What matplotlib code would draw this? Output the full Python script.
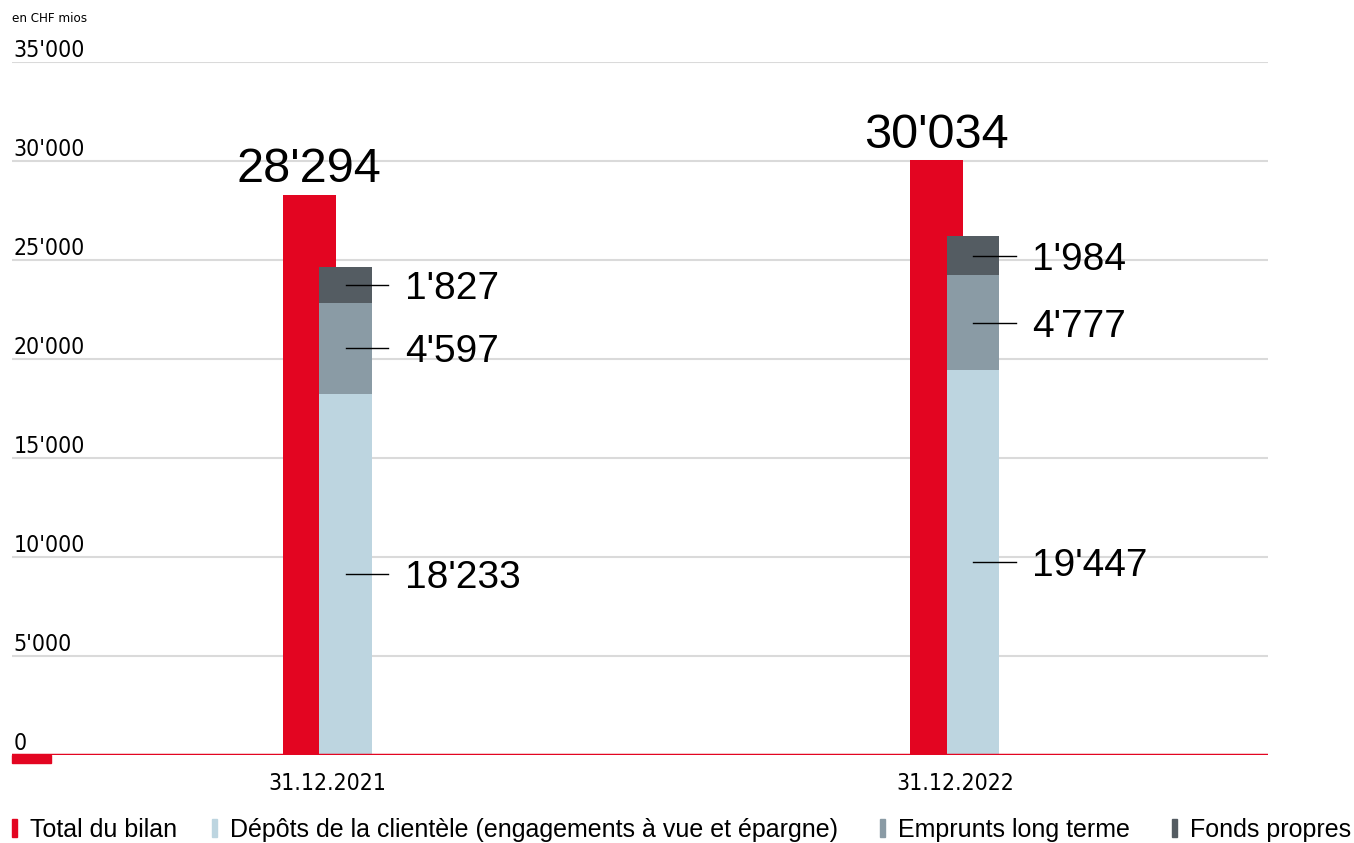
import matplotlib.pyplot as plt
from matplotlib.patches import Rectangle
import matplotlib.transforms as mtransforms

# data (en CHF mios)
dates = ['31.12.2021', '31.12.2022']
total = [28294, 30034]
depots = [18233, 19447]
emprunts = [4597, 4777]
fonds = [1827, 1984]
yticks = [0, 5000, 10000, 15000, 20000, 25000, 30000, 35000]
legend_labels = ['Total du bilan',
                 'Dépôts de la clientèle (engagements à vue et épargne)',
                 'Emprunts long terme', 'Fonds propres']

RED = '#E30521'
LIGHT = '#BDD5E0'
MID = '#8A9BA5'
DARK = '#545C62'
GRID = '#DADADA'

NARROW = ['DejaVu Sans']
ARIAL = ['Liberation Sans', 'DejaVu Sans']


def fmt(v):
    return f"{v:,}".replace(',', "'")


def main():
    W, H = 1354, 843
    fig = plt.figure(figsize=(W / 100, H / 100), dpi=100)
    ax = fig.add_axes([12 / W, (H - 755) / H, (1268 - 12) / W, (755 - 62) / H])

    x = list(range(len(dates)))
    width = 0.084
    off = 0.029
    xr = [i - off for i in x]
    xs = [i + off for i in x]

    ax.bar(xr, total, width=width, color=RED, zorder=2)
    ax.bar(xs, depots, width=width, color=LIGHT, zorder=3)
    bottom2 = [d for d in depots]
    ax.bar(xs, emprunts, width=width, bottom=bottom2, color=MID, zorder=3)
    bottom3 = [d + e for d, e in zip(depots, emprunts)]
    ax.bar(xs, fonds, width=width, bottom=bottom3, color=DARK, zorder=3)

    # total labels
    for xi, t in zip(xr, total):
        ax.annotate(fmt(t), (xi, t), xytext=(0, 9), textcoords='offset points',
                    ha='center', va='baseline', fontsize=35, family=ARIAL)

    # segment labels with leader lines
    for xi, d, e, f in zip(xs, depots, emprunts, fonds):
        mids = [d / 2, d + e / 2, d + e + f / 2]
        vals = [d, e, f]
        for m, v in zip(mids, vals):
            ax.plot([xi, xi + 0.068], [m, m], color='black', lw=1, zorder=4)
            ax.text(xi + 0.094, m, fmt(v), ha='left', va='center_baseline',
                    fontsize=28, family=ARIAL)

    ax.set_xlim(-0.503, 1.499)
    ax.set_ylim(0, 35000)

    # grid and baseline
    for yv in yticks[1:]:
        ax.axhline(yv, color=GRID, lw=1.5, zorder=1)
    ax.axhline(0, color=RED, lw=2.5, zorder=4)

    # y tick labels sit above the gridlines
    trans = mtransforms.blended_transform_factory(ax.transAxes, ax.transData)
    for yv in yticks:
        ax.annotate(fmt(yv), (0.001, yv), xycoords=trans, xytext=(0, 3.6),
                    textcoords='offset points', ha='left', va='baseline',
                    fontsize=16.5, family=NARROW, fontstretch='condensed')
    fig.text(12 / W, 1 - 22 / H, 'en CHF mios', fontsize=9.5, family=NARROW,
             fontstretch='condensed', ha='left', va='baseline')

    # small red block under zero
    ax.add_patch(Rectangle((0, -0.011), 39 / 1256, 0.011, transform=ax.transAxes,
                           color=RED, clip_on=False, zorder=4))

    ax.set_xticks(x)
    ax.set_xticklabels(dates, fontsize=16.5, family=NARROW, fontstretch='condensed')
    ax.tick_params(axis='x', length=0, pad=12)
    ax.set_yticks([])
    for s in ax.spines.values():
        s.set_visible(False)

    # legend drawn by hand
    colors = [RED, LIGHT, MID, DARK]
    mark_x = [12, 212, 880, 1172]
    for mx, c, lab in zip(mark_x, colors, legend_labels):
        fig.patches.append(Rectangle((mx / W, 1 - 837 / H), 5 / W, 18 / H,
                                     transform=fig.transFigure, color=c))
        fig.text((mx + 18) / W, 1 - 837 / H, lab, fontsize=18, family=ARIAL,
                 ha='left', va='baseline')

    fig.savefig('out.png', dpi=100)


if __name__ == '__main__':
    main()
